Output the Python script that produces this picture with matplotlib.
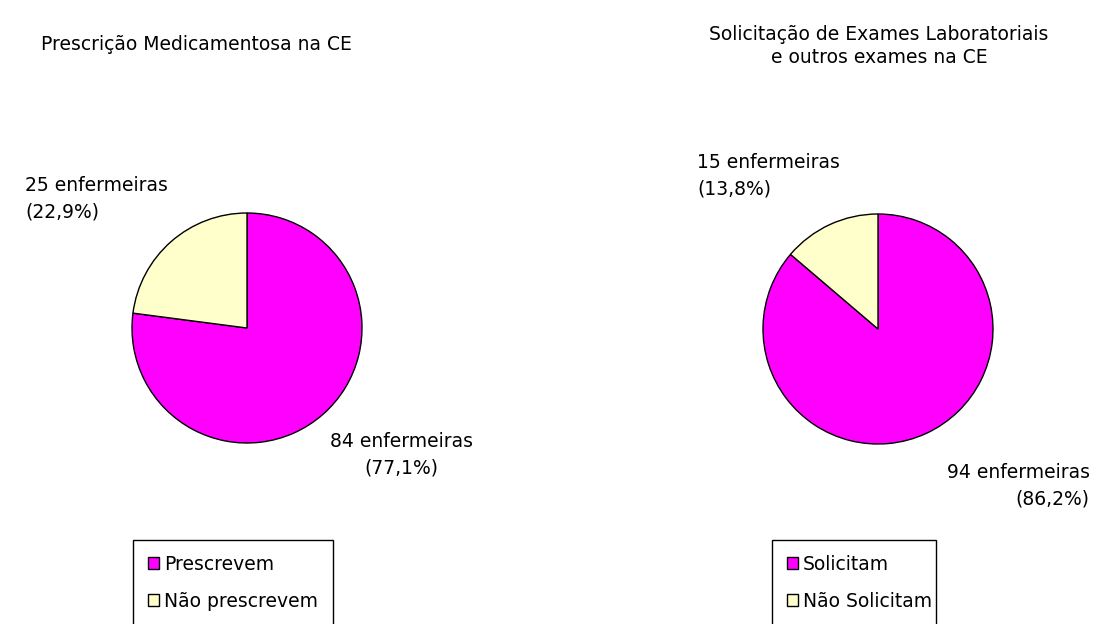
import matplotlib
matplotlib.use("Agg")
import matplotlib.pyplot as plt

plt.rcParams['font.family'] = ['DejaVu Sans']

W, H = 1101, 624

# dados
titulo1 = "Prescrição Medicamentosa na CE"
categorias1 = ["Prescrevem", "Não prescrevem"]
valores1 = [84, 25]
pct1 = ["77,1%", "22,9%"]

titulo2 = "Solicitação de Exames Laboratoriais\ne outros exames na CE"
categorias2 = ["Solicitam", "Não Solicitam"]
valores2 = [94, 15]
pct2 = ["86,2%", "13,8%"]

cores = ["#FF00FF", "#FFFFCC"]
fs = 13.5
R = 115  # raio da pizza em pixels


def eixo_pizza(cx, cy):
    # cria eixo centrado em (cx, cy) px (origem no topo), 1 unidade = R px
    ax = fig.add_axes([(cx - R) / W, (H - cy - R) / H, 2 * R / W, 2 * R / H])
    return ax


def fig_y(py):
    return 1 - py / H


fig = plt.figure(figsize=(W / 100, H / 100), dpi=100)

# ---- pizza 1
ax1 = eixo_pizza(247, 328)
ax1.pie(valores1, colors=cores, startangle=90, counterclock=False, radius=1,
        wedgeprops={'edgecolor': 'black', 'linewidth': 1.0})
ax1.set_xlim(-1, 1)
ax1.set_ylim(-1, 1)
ax1.set_aspect('equal')
ax1.text(-1.93, 1.12, f"{valores1[1]} enfermeiras\n({pct1[1]})", ha='left', va='center',
         fontsize=fs, linespacing=1.5, clip_on=False)
ax1.text(1.34, -1.10, f"{valores1[0]} enfermeiras\n({pct1[0]})", ha='center', va='center',
         fontsize=fs, linespacing=1.5, clip_on=False)
fig.text(196 / W, fig_y(45), titulo1, ha='center', va='center', fontsize=fs)
ax1.legend(categorias1, loc='upper left', mode='expand',
           bbox_to_anchor=((133 - 247) / R, (328 - 540) / R - 0.1, 200 / R, 0.1),
           bbox_transform=ax1.transData, fancybox=False, edgecolor='black',
           framealpha=1, fontsize=fs, handlelength=0.6, handleheight=0.6,
           handletextpad=0.25, borderpad=0.8, labelspacing=0.95, borderaxespad=0)

# ---- pizza 2
ax2 = eixo_pizza(878, 329)
ax2.pie(valores2, colors=cores, startangle=90, counterclock=False, radius=1,
        wedgeprops={'edgecolor': 'black', 'linewidth': 1.0})
ax2.set_xlim(-1, 1)
ax2.set_ylim(-1, 1)
ax2.set_aspect('equal')
ax2.text(-1.57, 1.33, f"{valores2[1]} enfermeiras\n({pct2[1]})", ha='left', va='center',
         fontsize=fs, linespacing=1.5, clip_on=False)
ax2.text(1.84, -1.36, f"{valores2[0]} enfermeiras\n({pct2[0]})", ha='right', va='center',
         multialignment='right', fontsize=fs, linespacing=1.5, clip_on=False)
fig.text(879 / W, fig_y(46), titulo2, ha='center', va='center', fontsize=fs, linespacing=1.3)
ax2.legend(categorias2, loc='upper left', mode='expand',
           bbox_to_anchor=((772 - 878) / R, (329 - 540) / R - 0.1, 164 / R, 0.1),
           bbox_transform=ax2.transData, fancybox=False, edgecolor='black',
           framealpha=1, fontsize=fs, handlelength=0.6, handleheight=0.6,
           handletextpad=0.25, borderpad=0.8, labelspacing=0.95, borderaxespad=0)

fig.savefig("out.png", dpi=100)
